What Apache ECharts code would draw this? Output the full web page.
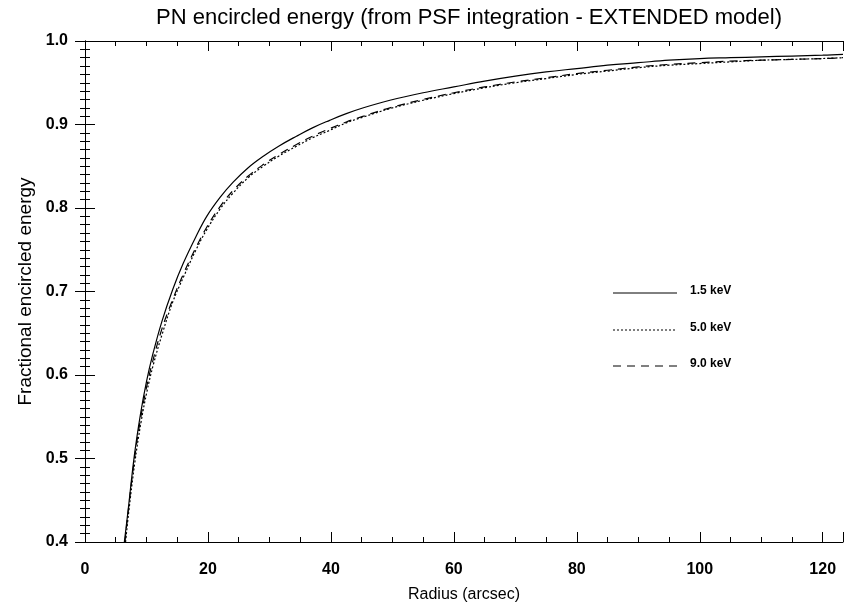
<!DOCTYPE html>
<html><head><meta charset="utf-8">
<script src="https://cdn.jsdelivr.net/npm/echarts@6/dist/echarts.min.js"></script>
<style>html,body{margin:0;padding:0;background:#fff}#c{width:856px;height:608px}</style>
</head><body><div id="c"></div>
<script>
var titleText = 'PN encircled energy (from PSF integration - EXTENDED model)';
var xName = 'Radius (arcsec)';
var yName = 'Fractional encircled energy';
var seriesNames = ['1.5 keV', '5.0 keV', '9.0 keV'];

var e15 = [[6.4,0.40],[7.0,0.437],[8.0,0.502],[9.0,0.552],[10.0,0.592],[11.0,0.624],[12.5,0.664],[14.3,0.703],[16.0,0.734],[18.0,0.765],[19.8,0.790],[22.0,0.813],[24.1,0.831],[26.5,0.848],[29.0,0.862],[31.5,0.874],[34.4,0.886],[37.0,0.896],[39.8,0.905],[42.5,0.913],[45.3,0.920],[49.6,0.929],[55,0.938],[60,0.945],[65,0.952],[70,0.958],[75,0.963],[80,0.967],[85,0.971],[90,0.974],[95,0.977],[100,0.979],[105,0.980],[110,0.981],[115,0.982],[120,0.983],[123.3,0.984]];
var e50 = [[6.6,0.40],[7.1,0.435],[8.1,0.495],[9.1,0.543],[10.1,0.581],[11.1,0.612],[12.6,0.650],[14.3,0.688],[16.0,0.717],[18.0,0.749],[19.8,0.774],[22.0,0.799],[24.1,0.818],[26.5,0.836],[29.0,0.850],[31.5,0.862],[34.4,0.874],[37.0,0.884],[39.8,0.893],[42.5,0.902],[45.3,0.909],[49.6,0.919],[55,0.929],[60,0.937],[65,0.944],[70,0.950],[75,0.955],[80,0.960],[85,0.964],[90,0.968],[95,0.971],[100,0.973],[105,0.975],[110,0.977],[115,0.978],[120,0.979],[123.3,0.980]];
var e90 = [[6.5,0.40],[7.0,0.435],[8.0,0.497],[9.0,0.546],[10.0,0.585],[11.0,0.616],[12.5,0.655],[14.3,0.691],[16.0,0.721],[18.0,0.752],[19.8,0.777],[22.0,0.802],[24.1,0.821],[26.5,0.838],[29.0,0.852],[31.5,0.864],[34.4,0.876],[37.0,0.886],[39.8,0.895],[42.5,0.903],[45.3,0.910],[49.6,0.920],[55,0.930],[60,0.938],[65,0.945],[70,0.951],[75,0.956],[80,0.961],[85,0.965],[90,0.969],[95,0.972],[100,0.974],[105,0.976],[110,0.977],[115,0.978],[120,0.979],[123.3,0.980]];

var FONT = 'Liberation Sans, Arial, Helvetica, sans-serif';
var chart = echarts.init(document.getElementById('c'), null, {renderer:'canvas'});
var axisCommon = {
  axisLine:{show:true,lineStyle:{color:'#000',width:1}},
  axisTick:{show:true,inside:true,length:10,lineStyle:{color:'#000'}},
  splitLine:{show:false}
};
var legendY = [293, 330, 366];
var dashes = ['solid', [2,2], [8,6]];
var graphics = [];
seriesNames.forEach(function(n,i){
  graphics.push({type:'line',shape:{x1:613,y1:legendY[i],x2:677,y2:legendY[i]},style:{stroke:'#000',lineWidth:1,lineDash:dashes[i]==='solid'?null:dashes[i]}});
  graphics.push({type:'text',left:690,top:legendY[i]-8,style:{text:n,font:'bold 12px '+FONT,fill:'#000'}});
});
chart.setOption({
  animation:false,
  backgroundColor:'#fff',
  title:{text:titleText,left:464,textAlign:'center',top:2,textStyle:{fontFamily:FONT,fontSize:22,fontWeight:'normal',color:'#000'}},
  grid:{left:85,right:13,top:41,bottom:65},
  xAxis:[
    Object.assign({type:'value',min:0,max:123.3,interval:20,
      name:xName,nameLocation:'middle',nameGap:45,nameTextStyle:{fontFamily:FONT,fontSize:16,color:'#000'},
      axisLabel:{fontFamily:FONT,fontSize:16,fontWeight:'bold',color:'#000',margin:20,showMaxLabel:false}}, axisCommon, {minorTick:{show:true,splitNumber:4,length:5,lineStyle:{color:'#000'}}}),
    Object.assign({type:'value',position:'top',min:0,max:123.3,interval:20,axisLabel:{show:false}}, axisCommon, {minorTick:{show:true,splitNumber:4,length:5,lineStyle:{color:'#000'}}})
  ],
  yAxis:[
    Object.assign({type:'value',min:0.4,max:1.0,interval:0.1,
      name:yName,nameLocation:'middle',nameGap:46,nameTextStyle:{fontFamily:FONT,fontSize:19,color:'#000'},
      axisLabel:{fontFamily:FONT,fontSize:16,fontWeight:'bold',color:'#000',margin:17,formatter:function(v){return v.toFixed(1);}}}, axisCommon, {minorTick:{show:true,splitNumber:10,length:5,lineStyle:{color:'#000'}}}),
    Object.assign({type:'value',position:'right',min:0.4,max:1.0,interval:0.1,axisLabel:{show:false}}, axisCommon, {minorTick:{show:true,splitNumber:10,length:5,lineStyle:{color:'#000'}}})
  ],
  series:[
    {name:seriesNames[0],type:'line',data:e15,showSymbol:false,smooth:0.4,lineStyle:{color:'#000',width:1.2,type:'solid'}},
    {name:seriesNames[1],type:'line',data:e50,showSymbol:false,smooth:0.4,lineStyle:{color:'#000',width:1.2,type:[2,2]}},
    {name:seriesNames[2],type:'line',data:e90,showSymbol:false,smooth:0.4,lineStyle:{color:'#000',width:1.2,type:[8,6]}}
  ],
  graphic:graphics
});
</script></body></html>
